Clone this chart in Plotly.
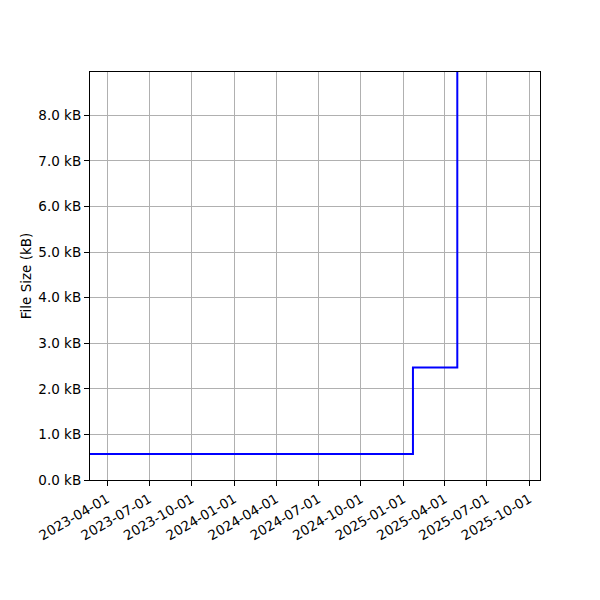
import plotly.graph_objects as go

# Data (step-post)
dates = ["2023-02-01", "2025-01-22", "2025-04-28", "2025-09-10"]
sizes_kb = [0.57, 2.47, 14.0, 14.0]

x_tick_vals = ["2023-04-01", "2023-07-01", "2023-10-01", "2024-01-01", "2024-04-01",
               "2024-07-01", "2024-10-01", "2025-01-01", "2025-04-01", "2025-07-01", "2025-10-01"]
y_tick_vals = [0, 1, 2, 3, 4, 5, 6, 7, 8]
y_tick_text = [f"{v:.1f} kB" for v in y_tick_vals]

fig = go.Figure()
fig.add_trace(go.Scatter(x=dates, y=sizes_kb, mode="lines", line_shape="hv",
                         line=dict(color="#0000ff", width=2), showlegend=False))

font = dict(family="DejaVu Sans", size=13.5, color="black")
fig.update_layout(
    width=600, height=600,
    margin=dict(l=82, r=68, t=64, b=128),
    plot_bgcolor="white", paper_bgcolor="white",
    font=font,
)
fig.update_xaxes(
    type="date", range=["2023-02-23", "2025-10-24"],
    tickvals=x_tick_vals, ticktext=x_tick_vals, tickangle=-30,
    showgrid=True, gridcolor="#b0b0b0", gridwidth=1,
    showline=True, linecolor="black", linewidth=1.2, mirror=True,
    ticks="outside", ticklen=5, tickcolor="black", tickfont=font,
    zeroline=False,
)
fig.update_yaxes(
    range=[0, 8.95], tickvals=y_tick_vals, ticktext=y_tick_text,
    title=dict(text="File Size (kB)", font=font, standoff=3),
    showgrid=True, gridcolor="#b0b0b0", gridwidth=1,
    showline=True, linecolor="black", linewidth=1.2, mirror=True,
    ticks="outside", ticklen=5, tickcolor="black", tickfont=font,
    zeroline=False,
)
fig.write_html("out.html")
